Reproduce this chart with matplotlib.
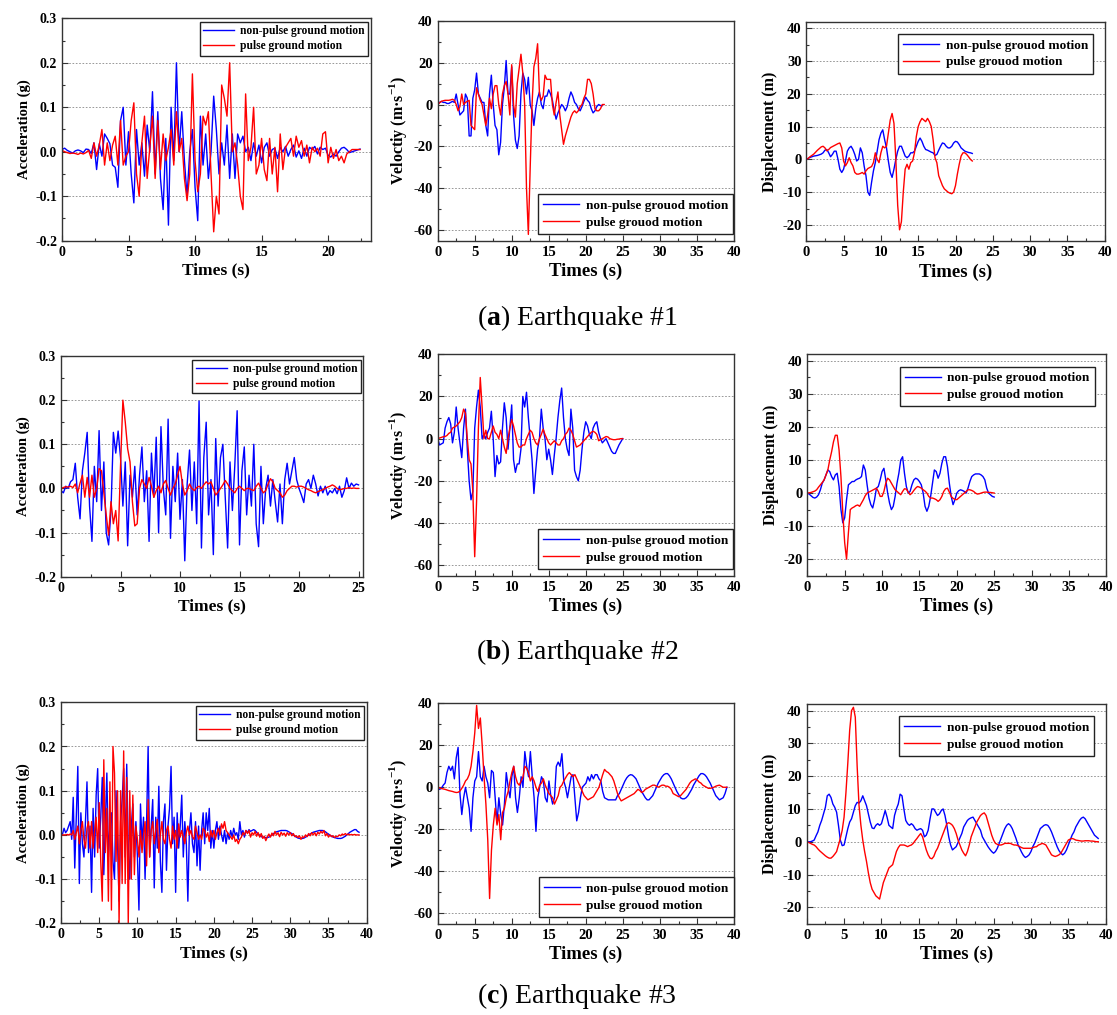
import numpy as np
import matplotlib
matplotlib.use("Agg")
import matplotlib.pyplot as plt
from matplotlib.ticker import MultipleLocator, FormatStrFormatter

plt.rcParams['font.family'] = ['Liberation Serif', 'DejaVu Serif']
plt.rcParams['font.weight'] = 'bold'
plt.rcParams['axes.labelweight'] = 'bold'
plt.rcParams['axes.unicode_minus'] = False
plt.rcParams['mathtext.fontset'] = 'custom'
plt.rcParams['mathtext.rm'] = 'Liberation Serif'
plt.rcParams['mathtext.bf'] = 'Liberation Serif:bold'

BLUE = '#0000ff'
RED = '#ff0000'

ACC_DT = 0.2
VD_DT = 0.25

# ---------------- Earthquake #1 ----------------
acc1_nonpulse = [
    0.005, 0.008, 0.003, 0.000, -0.003,
    0.002, 0.004, 0.002, -0.002, 0.006,
    0.005, -0.004, 0.020, -0.040, 0.018,
    -0.010, 0.040, 0.030, 0.018, -0.030,
    -0.035, -0.080, 0.070, 0.100, -0.030,
    0.045, -0.050, -0.115, 0.050, -0.030,
    0.020, -0.055, 0.060, 0.000, 0.135,
    -0.050, 0.090, -0.060, -0.130, 0.030,
    -0.165, 0.100, -0.020, 0.200, 0.000,
    0.090, -0.020, -0.100, 0.000, 0.050,
    -0.080, -0.155, 0.080, -0.030, 0.040,
    -0.060, 0.000, 0.125, 0.050, -0.050,
    0.020, -0.030, 0.060, -0.060, 0.040,
    -0.060, 0.040, 0.020, 0.035, 0.000,
    0.010, -0.020, 0.020, -0.010, 0.015,
    -0.025, 0.010, 0.020, -0.010, 0.005,
    0.008, -0.015, 0.010, 0.000, 0.012,
    -0.010, 0.005, 0.015, -0.012, 0.002,
    -0.015, 0.008, -0.010, 0.010, 0.005,
    0.012, -0.005, 0.010, 0.005, 0.008,
    -0.008, -0.012, -0.005, -0.010, 0.000,
    0.008, 0.010, 0.005, -0.002, 0.000,
    0.002, 0.004, 0.006]
acc1_pulse = [
    0.003, 0.000, -0.002, -0.004, -0.003,
    -0.004, -0.006, -0.003, -0.005, -0.002,
    0.003, -0.015, 0.020, -0.010, 0.015,
    0.050, -0.030, 0.020, -0.020, 0.015,
    0.035, -0.030, 0.070, -0.030, -0.010,
    0.000, 0.070, 0.110, -0.050, -0.100,
    0.020, 0.080, -0.060, 0.010, 0.080,
    -0.060, 0.070, -0.040, 0.040, -0.020,
    0.010, 0.050, -0.030, 0.090, 0.000,
    0.030, -0.060, -0.110, -0.050, 0.175,
    -0.020, -0.090, -0.050, 0.080, 0.060,
    0.090, -0.050, -0.180, -0.100, -0.140,
    0.150, 0.120, 0.080, 0.200, 0.000,
    0.020, -0.030, -0.100, -0.130, 0.130,
    -0.020, 0.010, 0.100, -0.050, -0.030,
    0.030, -0.040, -0.065, 0.030, -0.050,
    0.010, -0.090, 0.040, -0.040, 0.010,
    0.020, 0.030, -0.010, 0.035, 0.010,
    0.025, -0.010, 0.015, -0.025, 0.010,
    0.000, 0.008, -0.010, 0.040, 0.045,
    -0.025, 0.010, -0.015, 0.005, -0.020,
    -0.010, -0.025, -0.005, 0.000, 0.005,
    0.005, 0.005, 0.005]
vel1_nonpulse = [
    0.0, 1.0, 1.5, 1.0,
    1.0, 0.5, 0.5, 1.0,
    1.5, 1.0, 5.0, 0.0,
    -5.0, -4.0, -3.0, 5.0,
    3.0, -15.0, -15.0, 3.0,
    7.0, 15.0, 5.0, 3.0,
    1.0, 1.0, -10.0, -15.0,
    5.0, 14.0, 0.0, -10.0,
    -12.0, -24.0, -18.0, 0.0,
    8.0, 21.0, 5.0, 5.0,
    18.0, -5.0, -17.0, -21.0,
    -15.0, 5.0, 15.0, 12.0,
    5.0, 13.0, 0.0, -3.0,
    -10.0, -2.0, 3.0, 6.0,
    0.0, -2.0, 4.0, 4.0,
    7.0, 5.0, 2.0, -3.0,
    -7.0, -4.0, -2.0, 0.0,
    -1.0, -3.0, -1.0, 3.0,
    6.0, 4.0, 1.0, 0.0,
    -2.0, -3.0, -1.0, 1.5,
    3.5, 2.0, 1.0, -2.0,
    -4.0, -3.0, -1.0, 0.0,
    -0.5, -0.5]
vel1_pulse = [
    0.0, 0.8, 1.5, 1.8,
    2.0, 2.0, 2.0, 2.2,
    2.5, 2.0, 0.0, -3.0,
    -1.0, 5.0, 0.0, 1.0,
    1.5, 2.0, -10.0, -11.0,
    -12.0, 8.0, 5.0, 2.0,
    0.0, -5.0, -10.0, -5.0,
    3.0, -2.0, 5.0, 9.0,
    9.0, 0.0, -5.0, 5.0,
    9.0, 11.0, 5.0, -5.0,
    19.0, 0.0, -6.0, 10.0,
    17.0, 24.0, 15.0, 0.0,
    -40.0, -62.0, -30.0, 0.0,
    18.0, 22.0, 29.0, 5.0,
    2.0, 4.0, 14.0, 12.0,
    12.0, 12.0, 0.0, -5.0,
    1.0, 6.0, -5.0, -12.0,
    -19.0, -15.0, -12.0, -9.0,
    -6.0, -4.0, -3.0, -4.0,
    -3.0, -1.0, 0.0, 3.0,
    5.0, 12.0, 12.0, 10.0,
    5.0, -2.0, -3.0, -3.0,
    -2.0, 0.0, 0.0]
dis1_nonpulse = [
    0.0, 0.3, 0.6, 0.8,
    1.0, 1.1, 1.2, 1.4,
    1.6, 2.0, 2.8, 3.0,
    2.0, 0.8, 1.5, 2.5,
    2.5, 0.0, -3.0, -4.0,
    -3.0, -0.5, 2.5, 3.5,
    4.0, 3.0, 1.5, -0.5,
    0.0, 3.5, 2.0, -2.0,
    -5.0, -10.0, -11.0, -7.0,
    -3.5, -1.0, 2.5, 6.0,
    8.0, 9.0, 6.0, 3.5,
    -0.5, -4.0, -5.5, -3.0,
    0.0, 2.5, 4.0, 4.0,
    2.5, 1.0, 0.5, 1.0,
    2.0, 2.0, 2.5, 4.0,
    5.5, 6.5, 5.5, 4.0,
    3.0, 2.8, 2.5, 2.2,
    2.0, 1.2, 1.5, 2.8,
    4.0, 5.0, 4.8, 4.0,
    3.5, 3.5, 4.0, 5.0,
    5.5, 5.3, 4.5, 3.5,
    3.0, 2.5, 2.3, 2.1,
    2.0, 1.8]
dis1_pulse = [
    0.0, 0.3, 0.8, 1.2,
    1.6, 2.2, 2.8, 3.3,
    3.8, 4.0, 3.5, 2.6,
    3.0, 3.6, 3.9, 4.2,
    4.5, 4.8, 5.0, 3.5,
    -0.5, -2.0, -1.0, 0.5,
    -1.0, -2.0, -4.0, -4.5,
    -4.5, -4.3, -4.0, -4.5,
    -3.5, -2.8, -2.5, -2.2,
    -1.0, 2.0, 0.0, -1.0,
    2.0, 4.0, 3.5, 4.0,
    8.0, 12.0, 14.0, 11.0,
    0.0, -14.0, -21.5, -19.0,
    -10.0, -3.0, -1.5, -3.0,
    -1.0, -0.5, 2.0, 7.0,
    10.0, 11.5, 12.5, 12.0,
    11.5, 12.5, 11.5, 10.0,
    6.0, 0.5, -1.0, -5.0,
    -6.5, -8.0, -9.0, -9.5,
    -10.0, -10.3, -10.5, -10.0,
    -8.0, -4.5, -1.5, 1.0,
    2.0, 2.0, 1.5, 0.8,
    0.0, -0.5]

# ---------------- Earthquake #2 ----------------
acc2_nonpulse = [
    -0.005, -0.010, 0.005, 0.000, 0.015,
    0.020, 0.057, -0.020, -0.069, 0.040,
    0.080, 0.127, -0.040, -0.120, 0.050,
    -0.030, 0.131, -0.050, 0.060, -0.100,
    -0.128, -0.050, 0.127, 0.080, 0.130,
    0.070, -0.040, 0.060, -0.130, 0.030,
    -0.020, 0.050, -0.060, 0.030, 0.094,
    -0.030, 0.040, -0.120, 0.080, -0.020,
    0.116, -0.100, 0.140, 0.000, -0.060,
    0.157, -0.113, 0.050, -0.030, 0.080,
    -0.070, 0.020, -0.164, 0.010, 0.087,
    -0.050, 0.060, -0.080, 0.198, -0.135,
    0.070, 0.150, -0.060, 0.020, -0.150,
    0.113, -0.040, 0.070, 0.100, -0.020,
    -0.135, 0.060, -0.050, 0.050, 0.176,
    -0.128, 0.040, 0.094, -0.060, 0.030,
    -0.040, 0.100, -0.080, -0.132, 0.050,
    -0.080, 0.000, 0.030, -0.040, 0.020,
    -0.030, -0.076, 0.010, -0.080, 0.020,
    0.057, 0.010, 0.040, 0.070, 0.020,
    0.000, -0.015, -0.032, 0.010, 0.020,
    0.000, 0.030, 0.010, -0.017, 0.005,
    -0.010, 0.005, -0.015, -0.005, -0.010,
    0.000, -0.012, 0.005, -0.020, -0.005,
    0.024, 0.000, 0.012, 0.005, 0.010,
    0.008]
acc2_pulse = [
    0.000, 0.002, 0.004, 0.003, 0.005,
    0.002, 0.010, -0.010, 0.012, 0.030,
    -0.020, 0.025, -0.020, 0.030, -0.020,
    0.000, 0.045, 0.040, -0.010, -0.060,
    -0.106, -0.030, -0.080, -0.050, -0.119,
    0.050, 0.200, 0.150, 0.090, 0.060,
    -0.030, -0.085, -0.080, 0.000, 0.020,
    0.010, 0.000, 0.025, 0.005, -0.020,
    -0.005, 0.005, -0.010, 0.010, 0.018,
    0.000, -0.015, 0.000, 0.010, 0.030,
    0.050, 0.010, -0.015, -0.005, 0.010,
    0.000, -0.005, 0.002, 0.005, 0.000,
    0.008, 0.015, 0.010, 0.015, 0.000,
    -0.015, -0.008, 0.000, 0.008, 0.018,
    0.010, 0.000, -0.005, -0.010, 0.000,
    0.005, 0.000, -0.005, 0.000, 0.000,
    -0.003, -0.005, 0.005, 0.012, 0.000,
    -0.010, -0.005, 0.010, 0.022, 0.015,
    0.000, -0.005, -0.010, -0.020, -0.015,
    -0.005, 0.000, 0.005, 0.005, 0.003,
    0.005, 0.005, 0.003, 0.000, -0.003,
    -0.005, -0.008, -0.010, -0.007, -0.005,
    -0.003, 0.000, 0.003, 0.005, 0.008,
    0.005, 0.000, -0.003, -0.002, 0.000,
    0.000, 0.002, 0.000, 0.001, 0.000,
    0.000]
vel2_nonpulse = [
    0.0, -3.0, -2.5, -2.0,
    5.0, 8.0, 10.0, 7.0,
    -2.0, 3.0, 15.0, 5.0,
    -2.0, -9.0, 5.0, 14.0,
    -5.0, -20.0, -29.0, -25.0,
    5.0, 15.0, 23.0, 15.0,
    0.0, 2.0, 0.0, 3.0,
    5.0, 13.0, 0.0, -18.0,
    -8.0, -12.0, -11.0, 5.0,
    17.0, 10.0, -5.0, 5.0,
    16.0, -10.0, -16.0, -12.0,
    -12.0, -5.0, 20.0, 15.0,
    22.0, 10.0, 0.0, -10.0,
    -26.0, -15.0, -5.0, 0.0,
    14.0, 5.0, 0.0, -10.0,
    -5.0, -10.0, -17.0, -8.0,
    0.0, 10.0, 18.0, 24.0,
    10.0, 0.0, -5.0, -8.0,
    14.0, 5.0, -15.0, -18.0,
    -20.0, -15.0, -5.0, 3.0,
    8.0, 6.0, 2.0, 0.0,
    5.0, 7.0, 8.0, 3.0,
    0.0, -2.0, -1.0, 0.0,
    -2.0, -4.0, -6.0, -7.0,
    -7.0, -5.0, -3.0, -1.5,
    0.0]
vel2_pulse = [
    0.0, 0.3, 0.6, 0.9,
    1.0, 1.5, 2.5, 3.0,
    5.0, 5.5, 6.0, 7.0,
    8.0, 10.0, 14.0, 12.0,
    0.0, -10.0, -12.0, -25.0,
    -56.0, -30.0, 5.0, 29.0,
    15.0, 0.0, 4.0, 0.0,
    0.0, 3.0, 6.0, 3.0,
    2.0, 0.0, 4.0, 0.0,
    -4.0, -7.0, 0.0, 5.0,
    9.0, 6.0, 2.0, -2.0,
    -4.0, -4.0, -3.0, -3.0,
    0.0, 2.0, 4.0, 3.0,
    0.0, -2.0, -3.0, 0.0,
    2.0, 4.5, 2.0, 0.0,
    -2.0, -3.0, -2.0, -1.0,
    -2.0, -3.0, -3.0, -1.0,
    0.0, 2.0, 3.0, 5.0,
    4.0, 2.0, -1.0, -4.0,
    -3.5, -3.0, -2.0, -1.0,
    0.0, 1.0, 2.0, 3.0,
    3.5, 3.0, 2.0, -1.0,
    -0.5, 0.0, 0.5, 1.0,
    0.8, 0.0, -0.3, -0.5,
    -0.5, -0.3, -0.2, 0.0,
    0.0]
dis2_nonpulse = [
    0.0, -0.3, -0.8, -1.3,
    -1.5, -1.2, -0.5, 1.0,
    3.0, 4.0, 5.5, 7.0,
    6.5, 5.0, 4.0, 5.5,
    6.0, 2.0, -5.0, -9.0,
    -7.5, -2.0, 2.5, 3.0,
    3.5, 3.5, 4.0, 4.3,
    4.5, 5.0, 8.5, 7.0,
    2.5, -1.5, -3.5, -4.5,
    -2.0, 1.5, 2.0, 4.0,
    6.5, 7.5, 4.0, 0.0,
    -3.0, -5.0, -4.0, -1.0,
    3.0, 6.0, 10.0, 11.0,
    6.0, 2.0, 0.0, 0.5,
    2.5, 4.0, 4.5, 4.2,
    3.5, 2.5, 0.0, -4.0,
    -5.5, -4.0, -1.0, 3.0,
    7.0, 6.5, 4.5, 6.0,
    9.0, 11.0, 11.0, 8.0,
    3.0, -1.0, -3.5, -2.0,
    0.0, 0.7, 1.0, 0.8,
    0.5, 0.0, 1.5, 3.5,
    5.0, 5.5, 5.8, 5.8,
    5.8, 5.5, 5.0, 4.0,
    1.5, 0.0, -0.5, -1.0,
    -1.2]
dis2_pulse = [
    0.0, 0.1, 0.2, 0.4,
    0.6, 1.0, 1.8, 2.5,
    3.2, 4.0, 5.5, 7.0,
    10.0, 12.5, 15.5, 17.5,
    17.5, 13.0, 5.0, -6.0,
    -15.0, -20.0, -12.0, -5.0,
    -4.5, -4.2, -3.8, -3.6,
    -4.0, -3.0, -2.0, -0.8,
    0.0, 0.3, 0.6, 0.9,
    1.2, 1.5, 0.5, -1.0,
    -1.0, 0.5, 3.0, 4.5,
    4.0, 3.0, 2.0, 1.0,
    0.5, 0.0, -0.5, 0.5,
    1.3, 1.2, 0.3, -0.5,
    0.0, 0.8, 1.5, 2.0,
    1.8, 1.5, 1.0, 0.6,
    0.0, -1.0, -1.5, -1.5,
    -1.7, -2.0, -2.5, -2.0,
    -1.0, 0.5, 1.3, 1.5,
    0.3, -1.0, -1.6, -1.9,
    -2.0, -1.5, -1.0, -0.5,
    0.0, 0.5, 1.0, 1.0,
    0.8, 0.5, 0.0, -0.3,
    -0.2, 0.0, 0.2, 0.3,
    0.3, 0.2, 0.2, 0.1,
    0.0]

# ---------------- Earthquake #3 ----------------
acc3_nonpulse = [
    0.000, 0.002, 0.015, 0.005, 0.010,
    0.020, 0.030, -0.010, 0.085, -0.075,
    0.040, 0.155, -0.110, 0.050, -0.020,
    -0.050, 0.030, 0.120, -0.040, 0.020,
    -0.130, 0.060, -0.050, 0.090, 0.150,
    -0.030, 0.040, 0.130, -0.090, 0.030,
    0.140, -0.050, 0.020, 0.050, -0.060,
    -0.100, 0.100, -0.020, -0.150, 0.030,
    0.080, 0.150, -0.050, 0.160, -0.030,
    -0.100, 0.020, 0.070, -0.050, 0.030,
    -0.050, -0.170, 0.070, -0.020, 0.040,
    -0.100, 0.030, 0.200, -0.050, 0.020,
    0.080, -0.120, 0.040, -0.030, 0.110,
    -0.060, -0.130, 0.030, 0.070, -0.080,
    0.020, 0.060, 0.155, -0.020, 0.040,
    -0.130, 0.050, -0.030, 0.020, 0.090,
    -0.050, 0.030, -0.020, -0.150, 0.010,
    0.050, -0.020, -0.040, 0.030, -0.070,
    0.020, -0.080, 0.010, 0.050, -0.020,
    0.050, 0.010, 0.060, -0.030, 0.010,
    -0.030, 0.010, 0.030, -0.010, 0.020,
    0.000, -0.015, 0.010, -0.020, 0.005,
    -0.010, 0.010, -0.005, 0.015, 0.000,
    0.005, -0.010, 0.030, 0.000, 0.010,
    -0.005, 0.010, 0.005, 0.012, 0.008,
    0.010, 0.012, 0.010, 0.006, 0.002,
    -0.001, -0.004, -0.005, -0.006, -0.006,
    -0.006, -0.005, -0.003, 0.000, 0.003,
    0.005, 0.007, 0.008, 0.009, 0.010,
    0.010, 0.010, 0.010, 0.009, 0.007,
    0.005, 0.003, 0.000, -0.003, -0.005,
    -0.007, -0.008, -0.008, -0.008, -0.007,
    -0.005, -0.003, 0.000, 0.002, 0.004,
    0.006, 0.007, 0.008, 0.009, 0.010,
    0.010, 0.010, 0.009, 0.007, 0.004,
    0.002, -0.001, -0.003, -0.005, -0.006,
    -0.007, -0.008, -0.008, -0.008, -0.007,
    -0.005, -0.003, 0.000, 0.003, 0.006,
    0.008, 0.010, 0.012, 0.012, 0.008,
    0.006]
acc3_pulse = [
    0.000, 0.000, 0.000, 0.000, 0.001,
    0.000, 0.002, 0.000, 0.010, -0.010,
    0.005, 0.020, -0.020, 0.010, 0.030,
    -0.010, -0.030, 0.015, 0.030, -0.030,
    0.030, -0.030, 0.010, 0.040, -0.040,
    0.073, -0.060, -0.150, 0.170, -0.040,
    0.060, -0.150, 0.120, -0.170, 0.200,
    0.140, -0.060, 0.100, -0.200, 0.100,
    -0.110, 0.190, -0.110, 0.130, -0.200,
    0.100, -0.100, 0.090, -0.090, 0.020,
    -0.010, -0.050, 0.010, -0.040, 0.000,
    0.030, -0.070, 0.080, -0.050, 0.010,
    0.030, -0.020, 0.010, 0.035, -0.040,
    0.000, 0.030, -0.010, -0.020, 0.010,
    0.020, -0.010, -0.030, 0.020, -0.010,
    0.010, -0.030, 0.025, -0.005, 0.010,
    -0.005, -0.020, 0.005, 0.020, 0.000,
    0.010, -0.005, -0.010, 0.020, 0.005,
    -0.010, 0.000, -0.010, 0.015, 0.010,
    -0.005, 0.005, -0.015, 0.010, -0.005,
    0.010, -0.010, 0.005, 0.015, 0.000,
    0.025, 0.015, 0.030, 0.010, 0.005,
    0.000, -0.005, -0.010, 0.000, -0.015,
    -0.010, -0.020, -0.010, -0.005, 0.005,
    0.000, 0.010, 0.003, 0.010, -0.005,
    0.005, 0.000, 0.008, -0.003, 0.005,
    -0.005, 0.003, -0.008, -0.003, -0.013,
    -0.004, 0.002, -0.005, 0.004, -0.002,
    0.008, 0.000, 0.005, -0.004, 0.006,
    0.000, 0.004, -0.003, 0.005, 0.000,
    0.005, -0.002, 0.003, -0.004, -0.002,
    -0.006, -0.002, -0.010, -0.004, -0.006,
    0.000, -0.004, 0.003, -0.002, 0.005,
    0.000, 0.005, -0.002, 0.006, 0.002,
    0.008, 0.004, 0.010, -0.002, 0.003,
    -0.005, 0.000, -0.004, -0.002, -0.006,
    -0.003, -0.004, 0.000, -0.002, 0.002,
    0.000, 0.003, 0.000, 0.002, 0.000,
    0.001, 0.000, 0.001, 0.000, 0.000,
    0.000]
vel3_nonpulse = [
    0.0, -1.0, -0.5, 1.0,
    2.0, 7.0, 10.0, 8.0,
    10.0, 4.0, 14.0, 19.0,
    -3.0, -13.0, -5.0, 0.0,
    -5.0, -10.0, -21.0, -5.0,
    3.0, 5.0, 17.0, 5.0,
    3.0, 10.0, 5.0, 2.0,
    -5.0, 8.0, 7.0, -5.0,
    -17.0, -5.0, -13.0, -18.0,
    -8.0, 7.0, 0.0, -5.0,
    5.0, 10.0, -5.0, -12.0,
    -5.0, 5.0, 0.0, 17.0,
    10.0, 5.0, 17.0, 5.0,
    -5.0, -21.0, -5.0, 0.0,
    5.0, 3.0, -5.0, -7.0,
    3.0, -4.0, -8.0, -5.0,
    10.0, 12.0, 10.0, 16.0,
    3.0, 0.0, -5.0, 0.0,
    5.0, 6.0, -5.0, -16.0,
    -12.0, -5.0, 0.0, 1.0,
    2.0, 5.0, 3.0, 6.0,
    4.0, 6.0, 6.0, 4.0,
    3.0, -2.0, -5.0, -5.5,
    -6.0, -6.0, -6.0, -6.0,
    -6.0, -4.0, -3.0, -1.0,
    1.0, 3.0, 4.5, 5.5,
    6.0, 5.8, 5.0, 4.0,
    2.0, 0.0, -2.0, -3.5,
    -5.0, -6.0, -6.0, -5.0,
    -4.0, -2.0, 0.0, 2.0,
    3.5, 5.0, 6.0, 6.5,
    6.5, 5.5, 4.0, 2.0,
    0.0, -2.0, -3.5, -5.0,
    -5.5, -5.5, -5.0, -4.0,
    -2.5, -1.0, 1.0, 2.5,
    4.0, 5.5, 6.5, 6.5,
    6.0, 5.0, 3.5, 2.0,
    0.0, -2.0, -4.0, -5.0,
    -6.0, -5.5, -5.0, -3.0,
    0.0]
vel3_pulse = [
    0.0, -0.3, -0.6, -0.8,
    -1.0, -1.3, -1.6, -1.8,
    -2.0, -2.3, -2.5, -2.4,
    -1.8, -0.5, 1.0, 3.0,
    4.0, 6.0, 10.0, 17.0,
    26.0, 39.0, 28.0, 33.0,
    20.0, 5.0, -8.0, -25.0,
    -53.0, -30.0, -18.0, -10.0,
    -18.0, -13.0, -25.0, -12.0,
    -10.0, -5.0, -2.0, 3.0,
    7.0, 10.0, 5.0, 2.0,
    1.0, 3.0, 5.0, 10.0,
    9.0, 7.0, 3.0, 5.0,
    3.0, 0.0, -2.0, 1.0,
    2.0, 4.0, 1.0, -1.0,
    -3.0, -4.0, -5.0, -8.0,
    -6.0, -4.0, 0.0, 1.0,
    3.0, 4.5, 6.0, 7.0,
    6.0, 5.0, 6.0, 4.0,
    2.0, 0.0, -2.0, -4.0,
    -5.0, -6.0, -5.5, -5.0,
    -4.5, -3.0, -1.5, 0.0,
    3.0, 6.0, 8.5, 7.5,
    7.0, 6.0, 5.0, 3.0,
    0.0, -3.0, -5.0, -6.5,
    -6.0, -5.5, -5.0, -4.5,
    -4.0, -3.5, -3.0, -2.0,
    -1.0, -1.5, -2.5, -2.0,
    -1.0, -0.5, 0.0, 0.5,
    1.0, 1.0, 0.5, 0.0,
    0.5, 1.0, 1.0, 0.5,
    0.5, 0.0, -1.0, -3.0,
    -3.5, -4.0, -4.5, -4.0,
    -3.0, -2.0, -1.0, 0.5,
    2.0, 3.0, 3.5, 4.0,
    3.5, 2.5, 2.0, 1.0,
    0.5, 0.0, -0.5, -0.5,
    -0.3, 0.0, 0.5, 0.8,
    1.0, 0.5, 0.0, 0.0,
    0.0]
dis3_nonpulse = [
    0.0, 0.0, 0.0, 0.2,
    0.5, 1.8, 3.0, 5.0,
    6.5, 8.5, 10.5, 14.0,
    14.5, 13.5, 11.5, 10.5,
    9.0, 5.0, 0.5, -1.2,
    -1.0, 1.5, 4.0, 6.0,
    7.0, 9.0, 11.0, 12.0,
    11.8, 12.5, 14.0, 12.5,
    11.0, 8.5, 6.0, 4.2,
    4.0, 5.0, 5.5, 5.0,
    5.5, 7.5, 9.5, 7.5,
    5.0, 4.5, 4.0, 8.0,
    10.0, 11.5, 14.5, 14.0,
    10.0, 6.5, 5.5, 5.0,
    5.5, 5.0, 4.0, 3.5,
    3.8, 4.0, 3.5, 1.5,
    2.0, 3.5, 7.0, 10.0,
    10.0, 9.0, 8.0, 8.5,
    9.5, 10.0, 8.0, 5.0,
    1.5, -1.0, -2.5, -2.0,
    -1.5, -0.2, 1.2, 2.5,
    4.5, 5.5, 6.5, 7.0,
    7.3, 7.5, 6.5, 5.5,
    4.5, 3.5, 1.5, 0.5,
    -0.5, -1.5, -2.3, -3.0,
    -3.5, -3.0, -2.0, -0.5,
    1.0, 2.5, 4.0, 5.0,
    5.5, 5.0, 4.0, 2.5,
    1.0, -0.8, -2.0, -3.2,
    -4.2, -4.8, -4.5, -4.0,
    -3.0, -1.5, -0.4, 1.0,
    2.5, 4.0, 4.5, 5.0,
    5.2, 5.0, 4.2, 3.0,
    1.5, 0.0, -1.5, -2.7,
    -3.5, -4.0, -3.5, -2.5,
    -1.0, 0.5, 2.0, 3.0,
    4.5, 5.5, 6.5, 7.2,
    7.5, 7.0, 6.0, 5.0,
    4.0, 3.0, 2.0, 1.5,
    1.0]
dis3_pulse = [
    0.0, -0.2, -0.5, -0.8,
    -1.0, -1.5, -2.2, -2.8,
    -3.3, -3.8, -4.3, -4.7,
    -5.0, -5.0, -4.5, -3.8,
    -3.0, -1.0, 1.0, 3.5,
    7.5, 15.0, 24.0, 34.0,
    40.0, 41.0, 38.0, 23.0,
    11.0, 5.0, 0.5, -3.0,
    -6.0, -9.5, -12.5, -14.5,
    -15.5, -16.5, -17.0, -17.5,
    -15.0, -12.5, -11.0, -9.5,
    -8.0, -7.5, -7.0, -5.0,
    -3.0, -1.8, -1.0, -1.0,
    -1.0, -1.2, -1.5, -1.2,
    -1.0, -0.5, 0.3, 1.0,
    1.8, 2.5, 1.5, -0.5,
    -2.5, -4.0, -5.0, -5.2,
    -4.5, -3.0, -2.0, -0.5,
    1.0, 2.5, 4.0, 5.5,
    5.8, 5.5, 5.0, 4.0,
    2.5, 0.5, -1.0, -2.5,
    -3.5, -4.3, -3.0, -1.0,
    1.5, 3.0, 4.5, 6.0,
    7.0, 8.0, 8.5, 8.8,
    8.0, 6.0, 4.0, 2.0,
    0.5, -0.5, -0.8, -1.0,
    -1.0, -0.8, -0.5, -0.5,
    -0.5, -0.5, -0.8, -1.0,
    -1.0, -1.2, -1.5, -1.8,
    -2.0, -2.0, -2.0, -2.0,
    -2.0, -1.8, -1.6, -1.5,
    -1.0, -0.8, -0.5, -0.7,
    -1.0, -2.0, -3.0, -4.0,
    -4.3, -4.5, -4.3, -4.0,
    -3.5, -2.5, -1.5, -0.5,
    0.5, 0.8, 1.0, 0.8,
    0.5, 0.4, 0.3, 0.2,
    0.2, 0.3, 0.3, 0.3,
    0.2, 0.2, 0.1, 0.0,
    0.0]

captions = ['a', 'b', 'c']
acc_legend = ['non-pulse ground motion', 'pulse ground motion']
vd_legend = ['non-pulse grouod motion', 'pulse grouod motion']

fig = plt.figure(figsize=(11.17, 10.15), dpi=100)
W, H = 1117.0, 1015.0


def add_axes(l, r, t, b):
    return fig.add_axes([l / W, 1 - b / H, (r - l) / W, (b - t) / H])


def style(ax, xlim, ylim, xmaj, ymaj, fmt, ylabel, xsize, ysize, ticksize):
    ax.set_xlim(*xlim)
    ax.set_ylim(*ylim)
    ax.xaxis.set_major_locator(MultipleLocator(xmaj))
    ax.xaxis.set_minor_locator(MultipleLocator(xmaj / 2))
    ax.yaxis.set_major_locator(MultipleLocator(ymaj))
    ax.yaxis.set_minor_locator(MultipleLocator(ymaj / 2))
    ax.yaxis.set_major_formatter(FormatStrFormatter(fmt))
    ax.tick_params(which='both', direction='in', top=False, right=False,
                   labelsize=ticksize, width=0.8, color='#333333')
    ax.tick_params(which='major', length=4)
    ax.tick_params(which='minor', length=2.5)
    for sp in ax.spines.values():
        sp.set_color('#333333')
        sp.set_linewidth(1.0)
    ax.set_axisbelow(True)
    ax.yaxis.grid(True, which='major', linestyle=(0, (2, 2)), color='#888888', linewidth=0.6)
    ax.set_xlabel('Times (s)', fontsize=xsize, fontweight='bold', labelpad=3)
    ax.set_ylabel(ylabel, fontsize=ysize, fontweight='bold', labelpad=3)


def plot_pair(ax, dt, blue, red, labels):
    t_b = np.arange(len(blue)) * dt
    t_r = np.arange(len(red)) * dt
    ax.plot(t_b, blue, color=BLUE, lw=1.0, label=labels[0])
    ax.plot(t_r, red, color=RED, lw=1.0, label=labels[1])


def add_legend(ax, loc, anchor, size, spacing, pad):
    leg = ax.legend(loc=loc, bbox_to_anchor=anchor, fontsize=size, frameon=True,
                    fancybox=False, framealpha=1, edgecolor='#222222',
                    borderaxespad=0, handlelength=2.7, handletextpad=0.5,
                    labelspacing=spacing, borderpad=pad)
    leg.get_frame().set_linewidth(1.0)


# panel boxes in pixels (left, right, top, bottom) for each row
rows = [
    dict(acc=(62, 370.7, 18.3, 240.7), vel=(437.7, 733.7, 20.7, 240.7),
         dis=(806.3, 1104.7, 21.7, 241.3), acc_xmax=23.2, cap_y=318,
         data=(acc1_nonpulse, acc1_pulse, vel1_nonpulse, vel1_pulse, dis1_nonpulse, dis1_pulse)),
    dict(acc=(61, 363.3, 356, 576.7), vel=(437.7, 733.7, 354.3, 575.7),
         dis=(807.3, 1106.3, 354.3, 575.7), acc_xmax=25.4, cap_y=652,
         data=(acc2_nonpulse, acc2_pulse, vel2_nonpulse, vel2_pulse, dis2_nonpulse, dis2_pulse)),
    dict(acc=(61, 366.7, 702.3, 923.3), vel=(437.7, 734.3, 703.3, 923.7),
         dis=(806.7, 1105.7, 704, 923.7), acc_xmax=40, cap_y=996,
         data=(acc3_nonpulse, acc3_pulse, vel3_nonpulse, vel3_pulse, dis3_nonpulse, dis3_pulse)),
]

for n, (row, cap) in enumerate(zip(rows, captions), start=1):
    a_np, a_p, v_np, v_p, d_np, d_p = row['data']

    ax = add_axes(*row['acc'])
    plot_pair(ax, ACC_DT, a_np, a_p, acc_legend)
    style(ax, (0, row['acc_xmax']), (-0.2, 0.3), 5, 0.1, '%.1f',
          'Acceleration (g)', 12.5, 10.5, 10)
    add_legend(ax, 'upper right', (0.992, 0.984), 8.3, 0.25, 0.3)

    ax = add_axes(*row['vel'])
    plot_pair(ax, VD_DT, v_np, v_p, vd_legend)
    style(ax, (0, 40), (-65, 40), 5, 20, '%d',
          r'Veloctiy (m·s$^{\mathbf{-1}}$)', 13.5, 11.5, 10.5)
    add_legend(ax, 'lower right', (0.998, 0.03), 9.5, 0.35, 0.4)

    ax = add_axes(*row['dis'])
    plot_pair(ax, VD_DT, d_np, d_p, vd_legend)
    style(ax, (0, 40), (-25, 42), 5, 10, '%d',
          'Displacement (m)', 13.5, 11.5, 10.5)
    add_legend(ax, 'upper right', (0.961, 0.944), 9.5, 0.35, 0.4)

    fig.text(577 / W, 1 - row['cap_y'] / H,
             r'($\mathbf{%s}$) Earthquake #%d' % (cap, n),
             ha='center', va='center', fontsize=20, fontweight='normal')

fig.savefig('out.png', dpi=100)
